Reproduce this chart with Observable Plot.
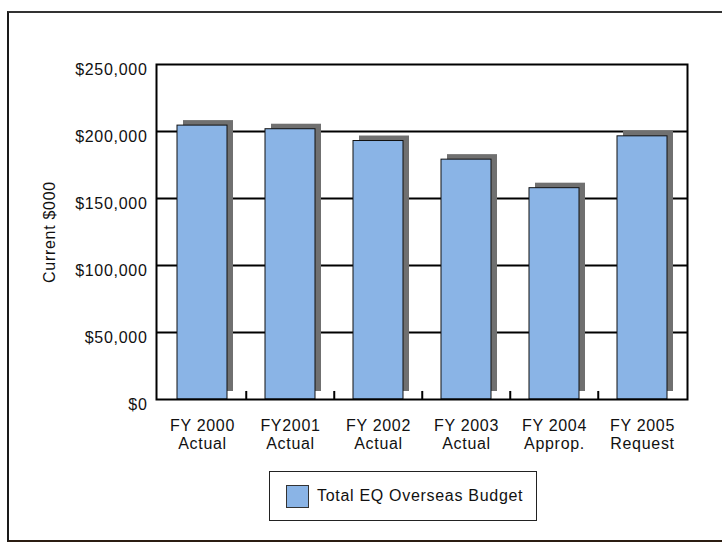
<!DOCTYPE html>
<html>
<head>
<meta charset="utf-8">
<script src="https://cdn.jsdelivr.net/npm/d3@7"></script>
<script src="https://cdn.jsdelivr.net/npm/@observablehq/plot@0.6"></script>
<style>
  html, body { margin: 0; padding: 0; background: #fff; }
  body { width: 722px; height: 543px; overflow: hidden; position: relative;
         font-family: "Liberation Sans", Arial, Helvetica, sans-serif; }
  #frame { position: absolute; left: 7px; top: 11px; width: 740px; height: 527px;
           border-left: 2px solid #1a1a1a; border-top: 2px solid #333; border-bottom: 2px solid #2b1d12; }
  #chart { position: absolute; left: 0; top: 0; }
  #legend { position: absolute; left: 269px; top: 471px; width: 268px; height: 50px;
            box-sizing: border-box; border: 1.5px solid #222; display: flex; align-items: center;
            padding-left: 16px; font-size: 16px; letter-spacing: 0.7px; color: #111; }
  #legend .sw { width: 23px; height: 23px; box-sizing: border-box; background: #8ab4e6;
                border: 1px solid #333; margin-right: 8px; }
</style>
</head>
<body>
<div id="frame"></div>
<div id="chart"></div>
<div id="legend"><div class="sw"></div><span>Total EQ Overseas Budget</span></div>
<script>
// ---- data ----
const categories = ["FY 2000", "FY2001", "FY 2002", "FY 2003", "FY 2004", "FY 2005"];
const subLabels  = ["Actual", "Actual", "Actual", "Actual", "Approp.", "Request"];
const budget     = [204400, 201700, 192900, 179000, 157700, 196400];
const yTicks     = [0, 50000, 100000, 150000, 200000, 250000];
const gridTicks  = [50000, 100000, 150000, 200000];
const seriesName = "Total EQ Overseas Budget";

const data = categories.map((c, i) => ({cat: c, sub: subLabels[i], value: budget[i]}));
const subOf = new Map(data.map(d => [d.cat, d.sub]));

const width = 722, height = 460;
const mL = 156, mR = 35;
const step = (width - mL - mR) / categories.length;

const chart = Plot.plot({
  width, height,
  marginLeft: mL, marginRight: mR, marginTop: 64, marginBottom: 61,
  style: {fontFamily: "'Liberation Sans', Arial, Helvetica, sans-serif", fontSize: "16px", letterSpacing: "0.7px", color: "#111", background: "transparent"},
  x: {domain: categories, paddingInner: 0.435, paddingOuter: 0.2175},
  y: {domain: [0, 250000]},
  marks: [
    Plot.ruleY(gridTicks, {stroke: "#000", strokeWidth: 2}),
    Plot.barY(data, {x: "cat", y: "value", fill: "#707070", dx: 6, dy: -5, insetBottom: 3}),
    Plot.barY(data, {x: "cat", y: "value", fill: "#8ab4e6", stroke: "#111", strokeWidth: 1}),
    Plot.ruleX(categories.slice(1), {x: d => d, dx: -step / 2, y1: 0, y2: 6000, stroke: "#000", strokeWidth: 2}),
    Plot.frame({stroke: "#000", strokeWidth: 2}),
    Plot.axisY({ticks: yTicks, tickFormat: d3.format("$,"), tickSize: 0, tickPadding: 9, dy: 5,
                fontSize: 16, label: "Current $000", labelAnchor: "center", labelArrow: "none", labelOffset: 113}),
    Plot.axisX({tickSize: 0, tickPadding: 18, tickFormat: d => d + "\n" + subOf.get(d),
                fontSize: 16, lineHeight: 1.15, label: null})
  ]
});
document.getElementById("chart").appendChild(chart);
</script>
</body>
</html>
